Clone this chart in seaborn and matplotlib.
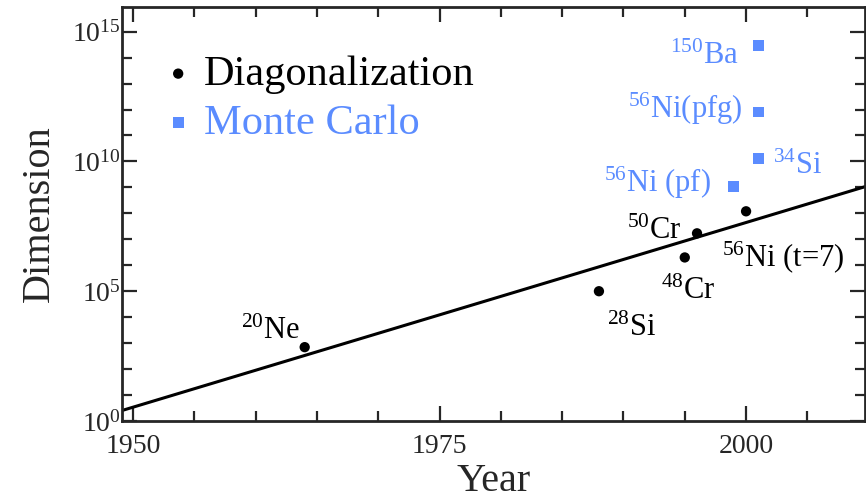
import numpy as np
import pandas as pd
import matplotlib
matplotlib.use("Agg")
import matplotlib.pyplot as plt
import seaborn as sns
from matplotlib.ticker import FixedLocator, NullFormatter

# ---- data ----
diag_labels = [r"$^{20}$Ne", r"$^{28}$Si", r"$^{48}$Cr", r"$^{50}$Cr", r"$^{56}$Ni (t=7)"]
diag_years = [1964, 1988, 1995, 1996, 2000]
diag_dims = [7e2, 1e5, 2e6, 1.7e7, 1.2e8]

mc_labels = [r"$^{150}$Ba", r"$^{56}$Ni(pfg)", r"$^{34}$Si", r"$^{56}$Ni (pf)"]
mc_years = [2001, 2001, 2001, 1999]
mc_dims = [3e14, 8e11, 1.3e10, 1.1e9]

fit_years = [1949, 2010]
fit_dims = [10 ** 0.39, 10 ** 9.07]

x_ticks = [1950, 1975, 2000]
y_ticks = [1e0, 1e5, 1e10, 1e15]
y_ticklabels = [r"$10^{0}$", r"$10^{5}$", r"$10^{10}$", r"$10^{15}$"]

BLUE = "#5b8cff"

sns.set_style("ticks")
plt.rcParams["font.family"] = ["Liberation Serif", "DejaVu Serif"]
plt.rcParams["mathtext.default"] = "regular"
plt.rcParams["mathtext.fontset"] = "custom"
plt.rcParams["mathtext.rm"] = "Liberation Serif"

fig = plt.figure(figsize=(8.66, 4.98), dpi=100)
ax = fig.add_axes([122 / 866, 77 / 498, 743 / 866, 414 / 498])

diag = pd.DataFrame({"year": diag_years, "dim": diag_dims})
mc = pd.DataFrame({"year": mc_years, "dim": mc_dims})
fit = pd.DataFrame({"year": fit_years, "dim": fit_dims})

sns.lineplot(data=fit, x="year", y="dim", color="black", lw=2.2, ax=ax, legend=False)
sns.scatterplot(data=diag, x="year", y="dim", marker="o", color="black", s=55,
                edgecolor="none", ax=ax, label="Diagonalization", zorder=5)
sns.scatterplot(data=mc, x="year", y="dim", marker="s", color=BLUE, s=60,
                edgecolor="none", ax=ax, label="Monte Carlo", zorder=5)

ax.set_yscale("log")
ax.set_xlim(1949.1, 2009.7)
ax.set_ylim(1, 10 ** 15.95)

ax.xaxis.set_major_locator(FixedLocator(x_ticks))
ax.xaxis.set_minor_locator(FixedLocator(list(range(1950, 2011, 5))))
ax.yaxis.set_major_locator(FixedLocator(y_ticks))
ax.yaxis.set_minor_locator(FixedLocator([10.0 ** k for k in range(0, 17)]))
ax.yaxis.set_minor_formatter(NullFormatter())
ax.set_yticklabels(y_ticklabels)

ax.tick_params(which="both", direction="in", top=True, right=True, width=1.6, labelsize=20)
ax.tick_params(axis="x", which="major", pad=9)
ax.tick_params(axis="y", which="major", pad=1)
ax.tick_params(which="major", length=11)
ax.tick_params(which="minor", length=7)
for s in ax.spines.values():
    s.set_linewidth(2.0)

ax.set_xlabel("Year", fontsize=29, labelpad=3)
ax.set_ylabel("Dimension", fontsize=29, labelpad=10)

# annotations (offsets in pixels)
diag_off = [(-64, 8, "left"), (8, -45, "left"), (-24, -42, "left"), (-70, -6, "left"), (-24, -55, "left")]
for lab, x, y, (dx, dy, ha) in zip(diag_labels, diag_years, diag_dims, diag_off):
    ax.annotate(lab, (x, y), xytext=(dx, dy), textcoords="offset pixels",
                ha=ha, va="baseline", fontsize=22, color="black")
mc_off = [(-20, -19, "right"), (-16, -6, "right"), (15, -16, "left"), (-23, -6, "right")]
for lab, x, y, (dx, dy, ha) in zip(mc_labels, mc_years, mc_dims, mc_off):
    ax.annotate(lab, (x, y), xytext=(dx, dy), textcoords="offset pixels",
                ha=ha, va="baseline", fontsize=22, color=BLUE)

leg = ax.legend(loc="upper left", bbox_to_anchor=(0.03, 0.935), frameon=False, fontsize=30.5,
                handlelength=0.6, handletextpad=0.3, labelspacing=0.25, borderpad=0)
for txt, c in zip(leg.get_texts(), ["black", BLUE]):
    txt.set_color(c)

fig.savefig("out.png", dpi=100)
